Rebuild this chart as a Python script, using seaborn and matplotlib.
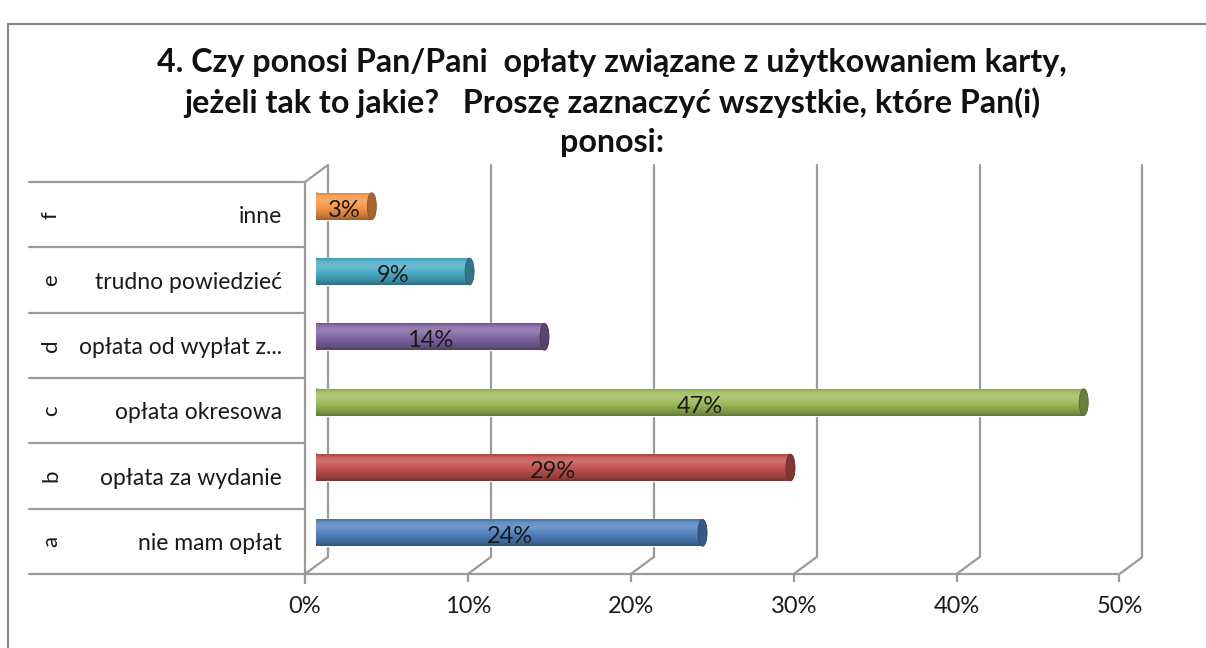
import numpy as np
import matplotlib
matplotlib.use("Agg")
import matplotlib.pyplot as plt
import matplotlib.transforms as mtransforms
from matplotlib.lines import Line2D
from matplotlib.patches import Ellipse, Rectangle
from matplotlib.colors import to_rgb
import seaborn as sns
import pandas as pd

# dane (od gory: f -> a)
letters = ["f", "e", "d", "c", "b", "a"]
answers = ["inne", "trudno powiedzieć", "opłata od wypłat z...",
           "opłata okresowa", "opłata za wydanie", "nie mam opłat"]
percent = [3.4, 9.4, 14.0, 47.1, 29.1, 23.7]
bar_colors = ["#F79646", "#4BACC6", "#8064A2", "#9BBB59", "#C0504D", "#4F81BD"]
x_ticks = [0, 10, 20, 30, 40, 50]
title = ("4. Czy ponosi Pan/Pani  opłaty związane z użytkowaniem karty,\n"
         "jeżeli tak to jakie?   Proszę zaznaczyć wszystkie, które Pan(i)\n"
         "ponosi:")

sns.set_theme(style="white")
plt.rcParams["font.family"] = ["Lato", "DejaVu Sans"]

DPI = 100
DX, DY = 11.5, 8.5          # przesuniecie "glebi" 3D w pikselach
GRID = "#9a9a9a"
TXT = "#1a1a1a"

fig = plt.figure(figsize=(12.06, 6.48), dpi=DPI)
fig.patch.set_facecolor("white")
ax = fig.add_axes([0.2624, 0.1273, 0.6754, 0.6049])

df = pd.DataFrame({"answer": answers, "percent": percent})
sns.barplot(data=df, x="percent", y="answer", hue="answer", hue_order=answers,
            order=answers, palette=bar_colors, width=0.41, saturation=1,
            legend=False, ax=ax, zorder=3)
ax.set_xlim(0, 50)
ax.set_ylim(5.5, -0.5)
ax.set_xlabel("")
ax.set_ylabel("")
for s in ax.spines.values():
    s.set_visible(False)
ax.set_facecolor("none")

back = mtransforms.ScaledTranslation(DX / DPI, DY / DPI, fig.dpi_scale_trans)
front = mtransforms.ScaledTranslation(-DX / DPI, -DY / DPI, fig.dpi_scale_trans)
xform = ax.get_xaxis_transform()
yform = ax.get_yaxis_transform()
ident = mtransforms.IdentityTransform()


def disp(xd, ya, sx, sy):
    X, Y = xform.transform((xd, ya))
    return X + sx, Y + sy


def seg(p, q, **kw):
    fig.add_artist(Line2D([p[0], q[0]], [p[1], q[1]], transform=ident,
                          color=GRID, lw=1.6, solid_capstyle="butt", **kw))


# sciana tylna (linie siatki) i podloga
for t in x_ticks:
    ax.plot([t, t], [0, 1], transform=xform + back, color=GRID, lw=1.6,
            clip_on=False, zorder=0)
    seg(disp(t, 0, -DX, -DY), disp(t, 0, DX, DY))
    seg(disp(t, 0, -DX, -DY), disp(t, 0, -DX, -DY - 8))
seg(disp(0, 0, -DX, -DY), disp(50, 0, -DX, -DY))
# sciana lewa
seg(disp(0, 1, -DX, -DY), disp(0, 0, -DX, -DY - 10))
seg(disp(0, 1, -DX, -DY), disp(0, 1, DX, DY))

# tabela etykiet kategorii
ax_w = ax.get_window_extent().width
px_unit = ax_w / 50.0
x_left = (29 - 305) / ax_w
for b in np.arange(-0.5, len(answers), 1.0):
    ax.plot([x_left, 0], [b, b], transform=yform + front, color=GRID, lw=1.6,
            clip_on=False, zorder=0)
for i, let in enumerate(letters):
    ax.text((51 - 305) / ax_w, i, let, transform=yform + front, rotation=90,
            ha="center", va="center", fontsize=16, color=TXT)

# efekt cylindra
keys_t = [0.0, 0.12, 0.3, 0.55, 0.85, 1.0]
keys_f = [0.9, 1.08, 1.12, 1.0, 0.8, 0.64]
for p, col in zip(list(ax.patches), bar_colors):
    x0, y0, w, h = p.get_x(), p.get_y(), p.get_width(), p.get_height()
    base = np.array(to_rgb(col))
    tt = np.linspace(0, 1, 64)
    f = np.interp(tt, keys_t, keys_f)[:, None]
    img = np.where(f > 1, base + (1 - base) * (f - 1) * 1.6, base * f)
    img = np.clip(img, 0, 1)[:, None, :]
    im = ax.imshow(img, extent=(x0, x0 + w, y0 + h, y0), aspect="auto",
                   origin="upper", zorder=3.5, interpolation="bilinear")
    im.set_clip_path(p)
    cap_w = 9 / px_unit
    ax.add_patch(Ellipse((x0, y0 + h / 2), cap_w, h, color=base * 0.9, zorder=2.9))
    ax.add_patch(Ellipse((x0 + w, y0 + h / 2), cap_w, h, color=base * 0.68,
                         zorder=3.6, ec=base * 0.55, lw=0.6))
ax.set_xlim(0, 50)
ax.set_ylim(5.5, -0.5)

# etykiety danych
for i, v in enumerate(percent):
    ax.text(v / 2, i + 0.06, f"{round(v)}%", ha="center", va="center",
            fontsize=17, color=TXT, zorder=5)

# etykiety osi
ax.set_xticks(x_ticks)
ax.set_xticklabels([f"{t}%" for t in x_ticks])
ax.tick_params(axis="x", length=0, pad=22, labelsize=17, labelcolor=TXT)
for lab in ax.get_xticklabels():
    lab.set_transform(lab.get_transform() + mtransforms.ScaledTranslation(-DX / DPI, 0, fig.dpi_scale_trans))
ax.set_yticks(range(len(answers)))
ax.set_yticklabels(answers)
ax.tick_params(axis="y", length=0, pad=25, labelsize=16.5, labelcolor=TXT)
for lab in ax.get_yticklabels():
    lab.set_transform(lab.get_transform() + mtransforms.ScaledTranslation(0, -DY / DPI, fig.dpi_scale_trans))

# tytul i ramka
fig.text(0.5075, 0.8418, title, ha="center", va="center", fontsize=23.2,
         fontweight="bold", linespacing=1.4, color="#111111")
fig.add_artist(Rectangle((8 / 1206, -0.1), 2, 1.0815 - 12 / 648, transform=fig.transFigure,
                         fill=False, ec="#888888", lw=1.5))

fig.savefig("out.png", dpi=DPI)
